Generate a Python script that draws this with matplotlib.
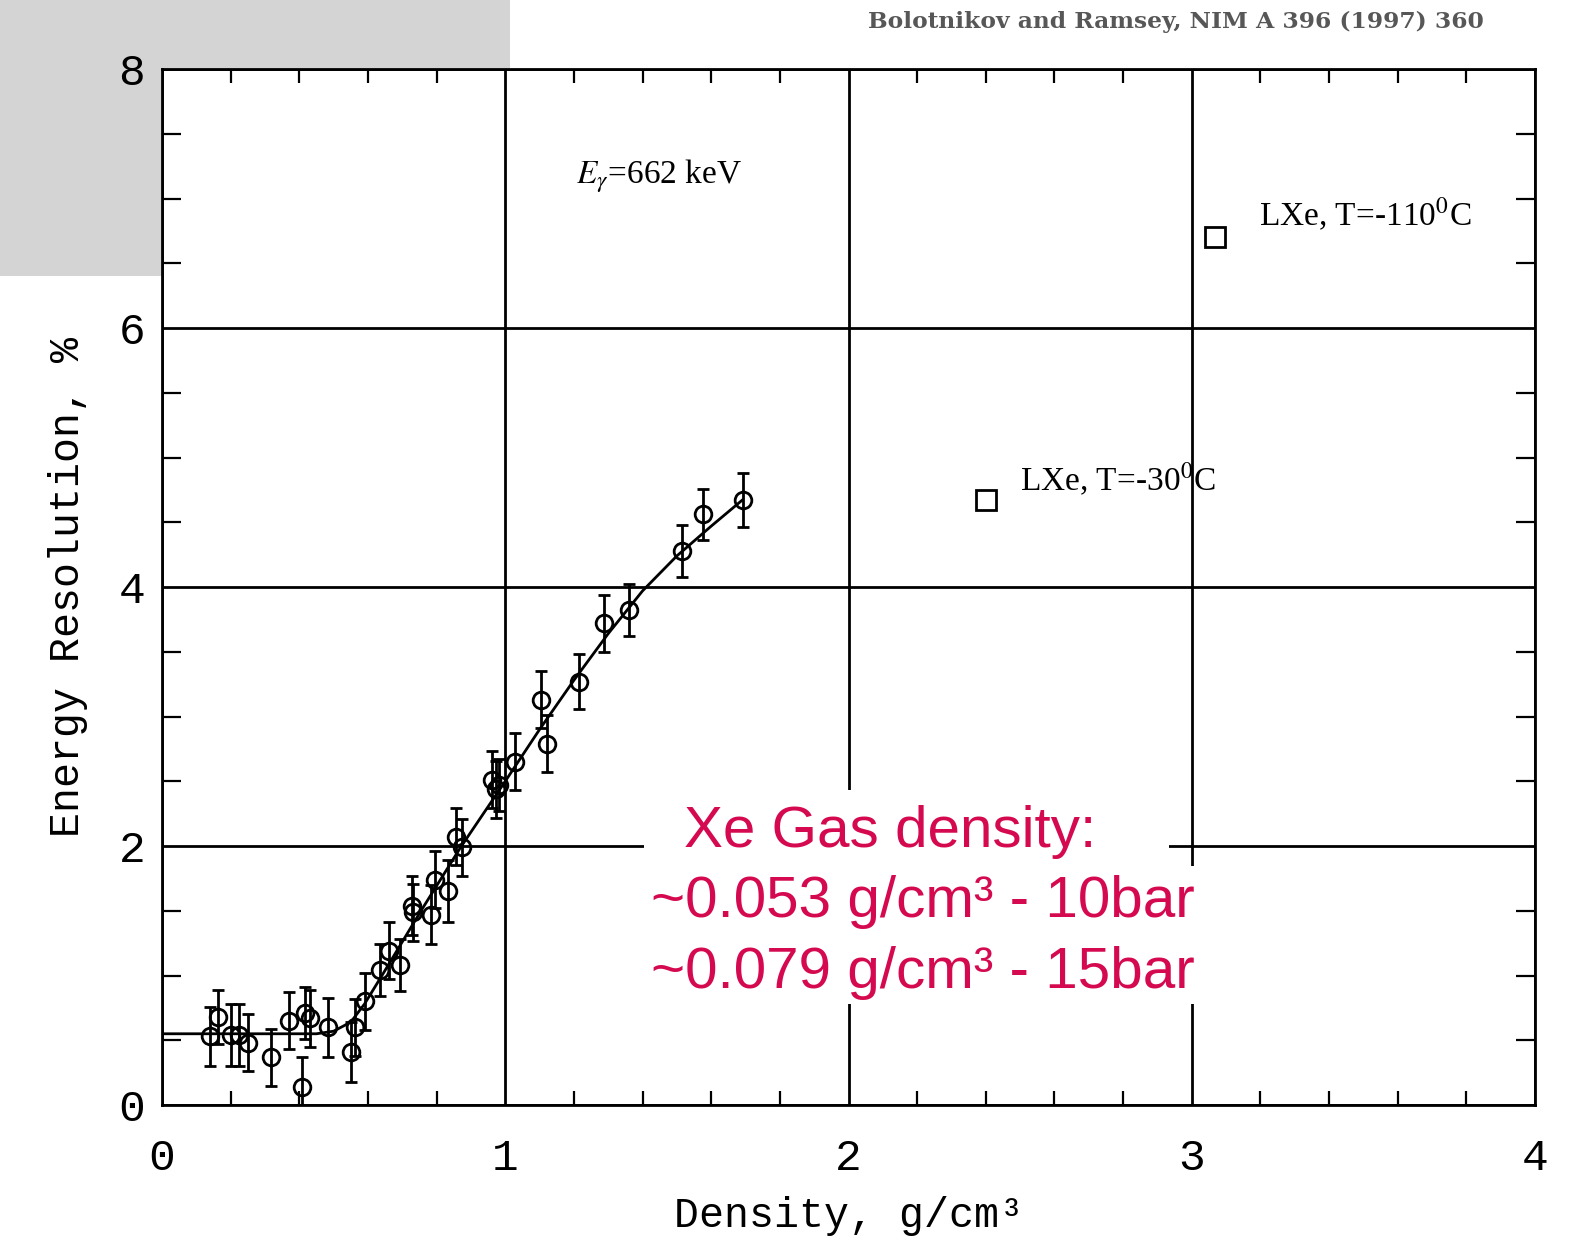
import matplotlib
matplotlib.use("Agg")
import matplotlib.pyplot as plt
from matplotlib.patches import Rectangle
from matplotlib.ticker import MultipleLocator

# measured points (density g/cm3, energy resolution %)
density = [0.141, 0.163, 0.202, 0.224, 0.252, 0.318, 0.371, 0.407, 0.416, 0.432,
           0.485, 0.551, 0.562, 0.590, 0.634, 0.660, 0.692, 0.727, 0.730, 0.784,
           0.795, 0.834, 0.856, 0.873, 0.961, 0.972, 0.983, 1.028, 1.105, 1.122,
           1.216, 1.288, 1.360, 1.515, 1.577, 1.693]
resolution = [0.53, 0.68, 0.54, 0.54, 0.48, 0.37, 0.65, 0.14, 0.71, 0.67,
              0.60, 0.41, 0.60, 0.80, 1.04, 1.19, 1.08, 1.54, 1.49, 1.47,
              1.74, 1.65, 2.07, 1.99, 2.51, 2.44, 2.47, 2.65, 3.13, 2.79,
              3.27, 3.72, 3.82, 4.28, 4.56, 4.67]
res_err = [0.23, 0.21, 0.24, 0.24, 0.22, 0.22, 0.22, 0.23, 0.20, 0.22,
           0.23, 0.23, 0.22, 0.22, 0.20, 0.22, 0.20, 0.23, 0.22, 0.23,
           0.22, 0.24, 0.22, 0.22, 0.22, 0.22, 0.20, 0.22, 0.22, 0.22,
           0.21, 0.22, 0.20, 0.20, 0.20, 0.21]

# fitted curve
fit_density = [0.0, 0.45, 0.50, 0.55, 0.59, 0.65, 0.75, 0.87, 1.0, 1.1,
               1.2, 1.3, 1.4, 1.5, 1.6, 1.69]
fit_resolution = [0.55, 0.55, 0.57, 0.64, 0.78, 1.04, 1.48, 1.99, 2.50, 2.90,
                  3.28, 3.64, 3.97, 4.24, 4.47, 4.67]

# liquid xenon points
lxe_density = [2.40, 3.067]
lxe_resolution = [4.67, 6.70]
lxe_labels = [r"LXe, T=-30$^{\rm 0}$C", r"LXe, T=-110$^{\rm 0}$C"]
lxe_label_x = [2.50, 3.195]
lxe_label_y = [4.83, 6.88]

x_ticks = [0, 1, 2, 3, 4]
y_ticks = [0, 2, 4, 6, 8]

note_lines = ["Xe Gas density:",
              "~0.053 g/cm\u00b3 - 10bar",
              "~0.079 g/cm\u00b3 - 15bar"]

plt.rcParams["mathtext.fontset"] = "stix"

W, H = 1582, 1244
fig = plt.figure(figsize=(W / 100, H / 100), dpi=100)

# grey block behind top-left corner
fig.add_artist(Rectangle((0, 1 - 276 / H), 510 / W, 276 / H, transform=fig.transFigure,
                         facecolor="#d4d4d4", edgecolor="none", zorder=-1))

ax = fig.add_axes([162 / W, 1 - 1105 / H, (1535 - 162) / W, (1105 - 69) / H])
ax.set_facecolor("white")
ax.set_xlim(0, 4)
ax.set_ylim(0, 8)

mono = "Liberation Mono"
ax.set_xticks(x_ticks)
ax.set_xticklabels([str(t) for t in x_ticks], fontfamily=mono, fontsize=32)
ax.set_yticks(y_ticks)
ax.set_yticklabels([str(t) for t in y_ticks], fontfamily=mono, fontsize=32)
ax.xaxis.set_minor_locator(MultipleLocator(0.2))
ax.yaxis.set_minor_locator(MultipleLocator(0.5))
ax.tick_params(which="major", length=0, pad=24)
ax.tick_params(axis="y", which="major", pad=12)
ax.tick_params(which="minor", direction="in", top=True, right=True, width=1.6, color="black")
ax.tick_params(axis="x", which="minor", length=10)
ax.tick_params(axis="y", which="minor", length=14)
ax.grid(True, which="major", color="black", linewidth=2.0)
for s in ax.spines.values():
    s.set_linewidth(2.0)
    s.set_color("black")

ax.set_xlabel("Density, g/cm\u00b3", fontfamily=mono, fontsize=30, labelpad=12)
ax.set_ylabel("Energy Resolution, %", fontfamily=mono, fontsize=30, labelpad=22)

ax.plot(fit_density, fit_resolution, color="black", linewidth=2.0, zorder=3)
ax.errorbar(density, resolution, yerr=res_err, fmt="o", ms=12, mfc="none", mec="black",
            mew=2.0, ecolor="black", elinewidth=2.0, capsize=4, capthick=2.0, zorder=4)
ax.plot(lxe_density, lxe_resolution, "s", ms=14, mfc="none", mec="black", mew=2.0, zorder=4)

serif = "Liberation Serif"
for lx, ly, lab in zip(lxe_label_x, lxe_label_y, lxe_labels):
    ax.text(lx, ly, lab, fontfamily=serif, fontsize=24, va="center", ha="left")
ax.text(1.207, 7.17, r"$E_{\gamma}$=662 keV", fontfamily=serif, fontsize=24, va="center", ha="left")

# white masks under the pink note
fig.add_artist(Rectangle((644 / W, 1 - 866 / H), (1169 - 644) / W, (866 - 790) / H,
                         transform=fig.transFigure, facecolor="white", edgecolor="none", zorder=2))
fig.add_artist(Rectangle((640 / W, 1 - 1004 / H), (1200 - 640) / W, (1004 - 866) / H,
                         transform=fig.transFigure, facecolor="white", edgecolor="none", zorder=2))

pink = "#d5094f"
note_x = [890, 923, 923]
note_y = [832, 902, 973]
for nx, ny, line in zip(note_x, note_y, note_lines):
    fig.text(nx / W, 1 - ny / H, line, color=pink, fontsize=42, ha="center", va="center",
             fontfamily=["Liberation Sans", "DejaVu Sans"], zorder=3)

fig.text(868 / W, 1 - 22 / H, "Bolotnikov and Ramsey, NIM A 396 (1997) 360",
         fontfamily="DejaVu Serif", fontsize=16.8, fontweight="bold", color="#575757",
         ha="left", va="center")

fig.savefig("out.png", dpi=100)
